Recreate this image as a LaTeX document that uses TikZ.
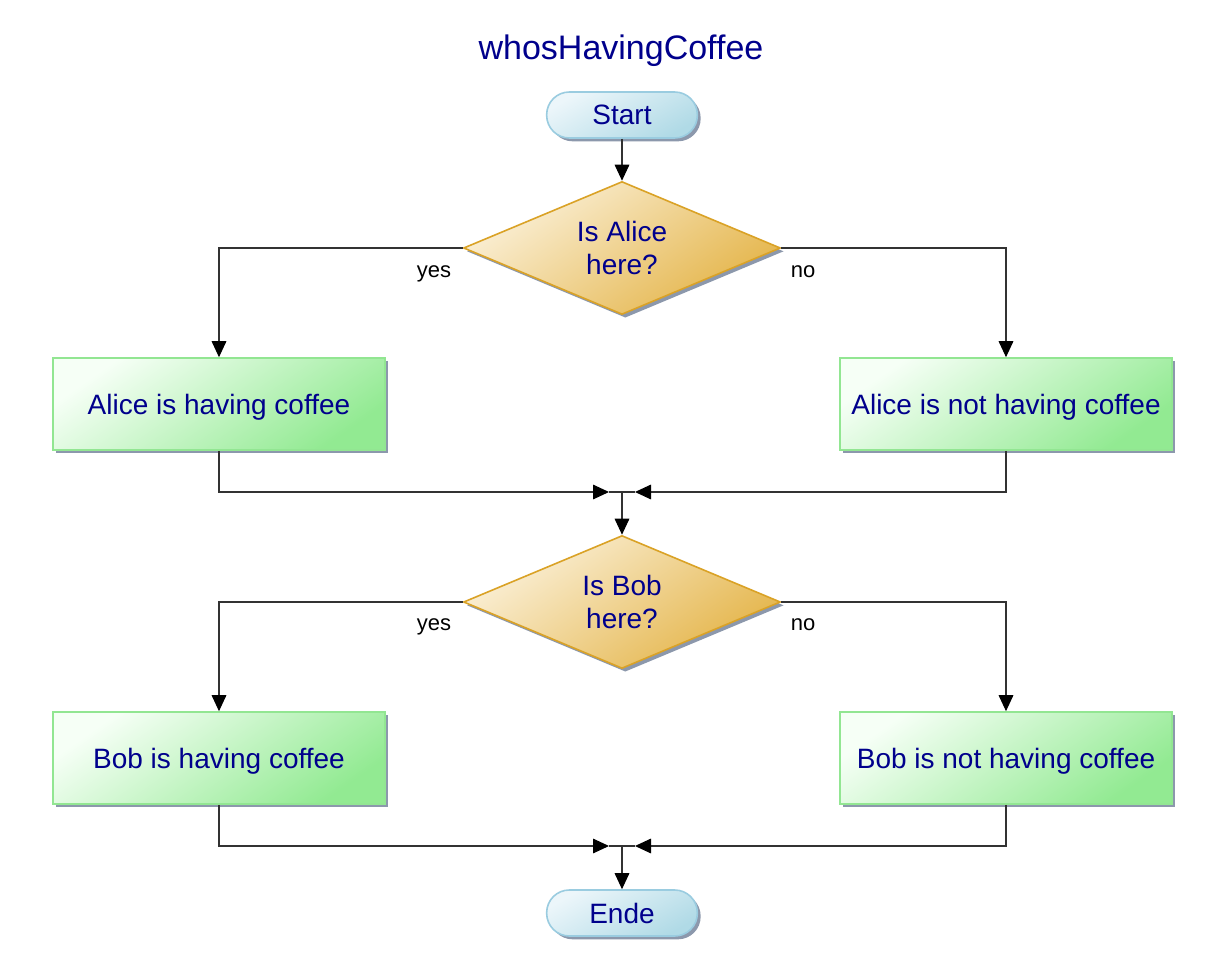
\documentclass[tikz,border=0pt]{standalone}
\usepackage{fontspec}
\setmainfont{Liberation Sans}
\usetikzlibrary{shapes.geometric,arrows.meta,shadows}
\definecolor{txtblue}{RGB}{0,0,140}
\definecolor{dialight}{RGB}{251,241,218}
\definecolor{diadark}{RGB}{228,180,72}
\definecolor{diaborder}{RGB}{218,162,38}
\definecolor{boxlight}{RGB}{246,255,246}
\definecolor{boxdark}{RGB}{146,234,146}
\definecolor{boxborder}{RGB}{146,230,146}
\definecolor{pilllight}{RGB}{236,246,250}
\definecolor{pilldark}{RGB}{176,218,230}
\definecolor{pillborder}{RGB}{154,204,224}
\definecolor{shadowc}{RGB}{140,152,172}
\definecolor{linec}{RGB}{50,50,50}
\tikzset{
  x=0.75pt, y=-0.75pt,
  base/.style={font=\fontsize{21}{25}\selectfont, text=txtblue, align=center, inner sep=0pt,
    drop shadow={shadow xshift=2.5pt, shadow yshift=-2.5pt, fill=shadowc, opacity=1}},
  pill/.style={base, rectangle, rounded corners=17pt, minimum width=113pt, minimum height=34.5pt,
    draw=pillborder, line width=1.2pt, top color=pilllight, bottom color=pilldark, shading angle=30},
  decision/.style={base, diamond, aspect=2.4, minimum width=237.75pt, minimum height=99.75pt,
    draw=diaborder, line width=1.2pt, top color=dialight, bottom color=diadark, shading angle=35},
  action/.style={base, rectangle, text depth=0pt, minimum width=249pt, minimum height=69pt,
    draw=boxborder, line width=1.2pt, top color=boxlight, bottom color=boxdark, shading angle=35},
  conn/.style={draw=linec, line width=0.8pt},
  arr/.style={conn, -{Triangle[length=12pt,width=11pt,color=black]}},
  lbl/.style={font=\fontsize{16.5}{18}\selectfont, text=black, inner sep=0pt, anchor=base},
  ttl/.style={font=\fontsize{25.5}{28}\selectfont, text=txtblue, inner sep=0pt, anchor=base}
}
\begin{document}
\begin{tikzpicture}
\useasboundingbox[fill=white] (0,0) rectangle (1222,978);
\node[ttl] (title) at (621,59) {whosHavingCoffee};
\node[pill] (start) at (622,115) {Start};
\node[decision] (d1) at (622,248) {Is Alice\\here?};
\node[action] (a1) at (219,404) {Alice is having coffee};
\node[action] (na1) at (1006,404) {Alice is not having coffee};
\node[decision] (d2) at (622,602) {Is Bob\\here?};
\node[action] (b1) at (219,758) {Bob is having coffee};
\node[action] (nb1) at (1006,758) {Bob is not having coffee};
\node[pill] (ende) at (622,913) {Ende};

\node[lbl] (y1) at (434,277) {yes};
\node[lbl] (n1) at (803,277) {no};
\node[lbl] (y2) at (434,630) {yes};
\node[lbl] (n2) at (803,630) {no};

\coordinate (m1) at (622,492);
\coordinate (m1l) at (609,492);
\coordinate (m1r) at (635,492);
\coordinate (m2) at (622,846);
\coordinate (m2l) at (609,846);
\coordinate (m2r) at (635,846);

\draw[arr] (start.south) -- (d1.north);
\draw[arr] (d1.west) -| (a1.north);
\draw[arr] (d1.east) -| (na1.north);
\draw[arr] (a1.south) |- (m1l);
\draw[arr] (na1.south) |- (m1r);
\draw[conn] (m1l) -- (m1r);
\draw[arr] (m1) -- (d2.north);
\draw[arr] (d2.west) -| (b1.north);
\draw[arr] (d2.east) -| (nb1.north);
\draw[arr] (b1.south) |- (m2l);
\draw[arr] (nb1.south) |- (m2r);
\draw[conn] (m2l) -- (m2r);
\draw[arr] (m2) -- (ende.north);
\end{tikzpicture}
\end{document}
